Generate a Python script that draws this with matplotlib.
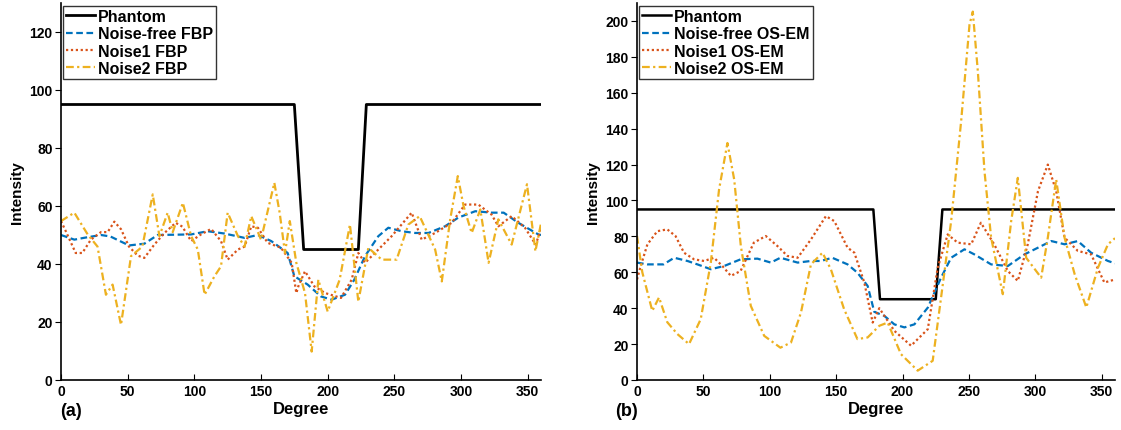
import matplotlib
matplotlib.use("Agg")
import matplotlib.pyplot as plt

plt.rcParams["font.family"] = ["Liberation Sans", "DejaVu Sans"]
plt.rcParams["font.weight"] = "bold"

BLUE = "#0072BD"
ORANGE = "#D95319"
YELLOW = "#EDB120"

# (a) FBP
phantom_a_x = [0, 175, 182, 223, 229, 360]
phantom_a_y = [95, 95, 45, 45, 95, 95]

fbp_free_x = [0, 10, 17, 30, 37, 51, 62.5, 72.5, 97.6, 110, 122.7, 137.7, 147.7, 157.7, 170, 175,
              185, 195, 203, 213, 220, 228, 238, 245.5, 255.5, 265.5, 275.6, 288, 298, 310.7, 323,
              332, 343, 358, 360]
fbp_free_y = [50, 48.4, 49, 50, 49.5, 46.4, 47, 50, 50.2, 51.3, 50.5, 49, 50, 47.9, 43.8, 35.8,
              32.9, 28.8, 27.7, 29.4, 34.6, 42.7, 49.6, 52.5, 51.3, 50.7, 50.7, 53, 56, 58.2, 57.7,
              57.7, 54.2, 50.2, 50]

fbp_n1_x = [0, 3.6, 11, 16, 22.4, 30, 35, 40, 45, 51, 57.5, 62.5, 70, 77.6, 86, 91, 97.6, 105,
            112.6, 120, 125, 132.7, 137.7, 142.7, 147.7, 155, 165, 173, 176.5, 178, 183, 190, 198,
            210, 218, 223, 228, 238, 248, 263, 270.5, 280.6, 293, 303, 313, 323, 328, 338, 348,
            356, 360]
fbp_n1_y = [54.8, 51.3, 43.8, 43.8, 48.4, 51, 51, 54.6, 52, 46, 42.9, 42.1, 46.7, 50.7, 54.2, 52.9,
            47.9, 50.2, 52.1, 47.9, 41.5, 45, 46, 53, 52.5, 47.3, 45.6, 40.4, 30, 32.3, 37.5, 32.3,
            30, 28.3, 34.6, 43.8, 40.4, 45, 49.6, 57.7, 48.4, 50.7, 54.2, 60.5, 60.5, 57, 53, 56.5,
            52.5, 46.7, 52]

fbp_n2_x = [0, 10, 20, 27.4, 33.7, 38.7, 45, 52.5, 61, 68.8, 73.8, 80, 83.8, 91.4, 97.6, 102.6,
            107.7, 115, 120, 125, 132.7, 137.7, 142.7, 150, 160, 164, 168, 171.6, 176.5, 183, 188,
            193, 200, 209, 216.7, 223, 230.5, 240.5, 251.7, 260.5, 269, 280.6, 285.6, 291.9, 297.6,
            301.9, 308, 314.5, 320.7, 328, 338, 349.5, 355.8, 360]
fbp_n2_y = [54.8, 57.7, 50.2, 46, 29.4, 32.9, 19, 42.7, 46, 64, 49.6, 57.7, 51, 61.1, 49.6, 45,
            29.4, 35.7, 39.2, 57.7, 49.6, 46, 56.5, 48.4, 68, 57.7, 43.8, 54.8, 40.4, 30, 9.8,
            34.6, 23.6, 34.6, 53.6, 27, 45.6, 41.5, 41.5, 53.6, 56.5, 45, 34, 55.4, 70.3, 60, 50.7,
            58.8, 40.4, 55.4, 46.7, 67.5, 44.4, 54]

# (b) OS-EM
phantom_b_x = [0, 178, 183, 225, 230, 360]
phantom_b_y = [95, 95, 45, 45, 95, 95]

em_free_x = [0, 7.8, 20, 28, 38, 45.5, 55.6, 65.6, 78, 90.7, 100.8, 108, 121, 131, 138.5, 147,
             158.6, 166, 173.7, 178.7, 186.3, 193.8, 201.4, 208.9, 219, 229, 236.6, 246.6, 254,
             266.7, 279.3, 291.9, 302, 312, 322, 332, 342, 354.7, 360]
em_free_y = [65.4, 64.4, 64.4, 68.1, 66.3, 64.4, 61.7, 63.5, 67.2, 67.6, 65.4, 68.1, 65.4, 66.3,
             66.3, 68.1, 64.4, 59.8, 52.4, 38, 35.7, 31, 29.3, 31, 40.3, 57, 68.1, 72.8, 70, 64.4,
             63.5, 70, 73.7, 77.4, 75.6, 77.4, 70.9, 66.3, 65]

em_n1_x = [0, 2.8, 7.8, 15.3, 22.8, 29, 35.4, 43, 50.5, 58, 64.3, 70.7, 78, 88, 97, 105.8, 113.3,
           121, 131, 142.3, 148.6, 158.6, 163.7, 171.2, 177.5, 182.5, 193.8, 206.4, 219, 226.5,
           234, 241.5, 251.7, 259, 269, 279.3, 286.8, 294.3, 302, 309.4, 315.7, 322, 332, 342, 352,
           360]
em_n1_y = [56, 63.5, 75.5, 82.9, 83.9, 80.2, 70.9, 67.2, 66.3, 68.1, 63.5, 58, 60.7, 76.5, 80.2,
           74.6, 69.1, 68.1, 78.3, 91.3, 88.5, 73.7, 70.9, 54.3, 32, 40, 27.4, 19.1, 28.3, 62.6,
           81.1, 76.5, 75.6, 87.6, 75.6, 60.7, 55.2, 75.6, 105.2, 120, 105.2, 79.3, 71.9, 70, 54.3,
           56]

em_n2_x = [0, 4, 11.5, 16.6, 22.8, 30.4, 39.2, 48, 55.6, 61.8, 68.1, 73.2, 78.2, 85.7, 95.8, 108,
           116, 123.5, 131, 139.7, 146, 156, 166, 173.7, 182.5, 188.8, 198.8, 211.4, 222.7, 229,
           236.6, 244.1, 250.4, 252.9, 256.7, 261.7, 266.7, 275.5, 281.8, 286.8, 293.1, 304.4,
           309.4, 315.7, 322, 329.6, 338.4, 347.2, 354.7, 360]
em_n2_y = [80.2, 60, 38.5, 46, 32.2, 25.6, 20, 33.9, 65.4, 106.1, 132, 111.7, 74.6, 41.3, 24.6, 18,
           20.9, 37.6, 64.4, 70.9, 61.7, 39.4, 22.8, 23.7, 30.2, 32, 14.4, 5.2, 10.7, 45.9, 88.5,
           144, 197.8, 205.2, 171.9, 116.3, 79.3, 47.8, 88.5, 112.6, 68.1, 57, 79.3, 111.7, 79.3,
           59, 40.4, 62.6, 75.6, 79]

W, H = 1121, 431
fig = plt.figure(figsize=(W / 100, H / 100), dpi=100)

DASH = (0, (3, 1.6))
DOT = (0, (1, 1.2))
DASHDOT = (0, (3.5, 1.5, 1, 1.5))


def make_axes(left, right, ymax, yticks):
    ax = fig.add_axes([left / W, 1 - 381 / H, (right - left) / W, 377 / H])
    ax.set_xlim(0, 360)
    ax.set_ylim(0, ymax)
    ax.set_xticks(range(0, 361, 50))
    ax.set_yticks(yticks)
    ax.spines["top"].set_visible(False)
    ax.spines["right"].set_visible(False)
    for s in ("left", "bottom"):
        ax.spines[s].set_linewidth(1.2)
    ax.tick_params(axis="x", direction="in", length=4, labelsize=10, pad=3)
    ax.tick_params(axis="y", direction="out", length=4, labelsize=10, pad=2)
    ax.set_xlabel("Degree", fontsize=12, fontweight="bold", labelpad=2)
    ax.set_ylabel("Intensity", fontsize=11, fontweight="bold", labelpad=4)
    return ax


ax1 = make_axes(61, 541, 130, range(0, 121, 20))
ax1.plot(phantom_a_x, phantom_a_y, color="black", lw=2, label="Phantom")
ax1.plot(fbp_free_x, fbp_free_y, color=BLUE, lw=1.6, ls=DASH, label="Noise-free FBP")
ax1.plot(fbp_n1_x, fbp_n1_y, color=ORANGE, lw=1.6, ls=DOT, label="Noise1 FBP")
ax1.plot(fbp_n2_x, fbp_n2_y, color=YELLOW, lw=1.6, ls=DASHDOT, label="Noise2 FBP")

ax2 = make_axes(637, 1115, 210, range(0, 201, 20))
ax2.plot(phantom_b_x, phantom_b_y, color="black", lw=1.8, label="Phantom")
ax2.plot(em_free_x, em_free_y, color=BLUE, lw=1.6, ls=DASH, label="Noise-free OS-EM")
ax2.plot(em_n1_x, em_n1_y, color=ORANGE, lw=1.6, ls=DOT, label="Noise1 OS-EM")
ax2.plot(em_n2_x, em_n2_y, color=YELLOW, lw=1.6, ls=DASHDOT, label="Noise2 OS-EM")

for ax in (ax1, ax2):
    leg = ax.legend(loc="upper left", bbox_to_anchor=(0.004, 0.993),
                    prop={"weight": "bold", "size": 11.5}, frameon=True, fancybox=False,
                    borderpad=0.2, labelspacing=0.15, handlelength=1.8, handletextpad=0.2,
                    borderaxespad=0)
    leg.get_frame().set_edgecolor("black")
    leg.get_frame().set_linewidth(1)

fig.text(60 / W, 1 - 412 / H, "(a)", fontsize=13, fontweight="bold", va="center")
fig.text(615 / W, 1 - 412 / H, "(b)", fontsize=13, fontweight="bold", va="center")

fig.savefig("out.png", dpi=100)
